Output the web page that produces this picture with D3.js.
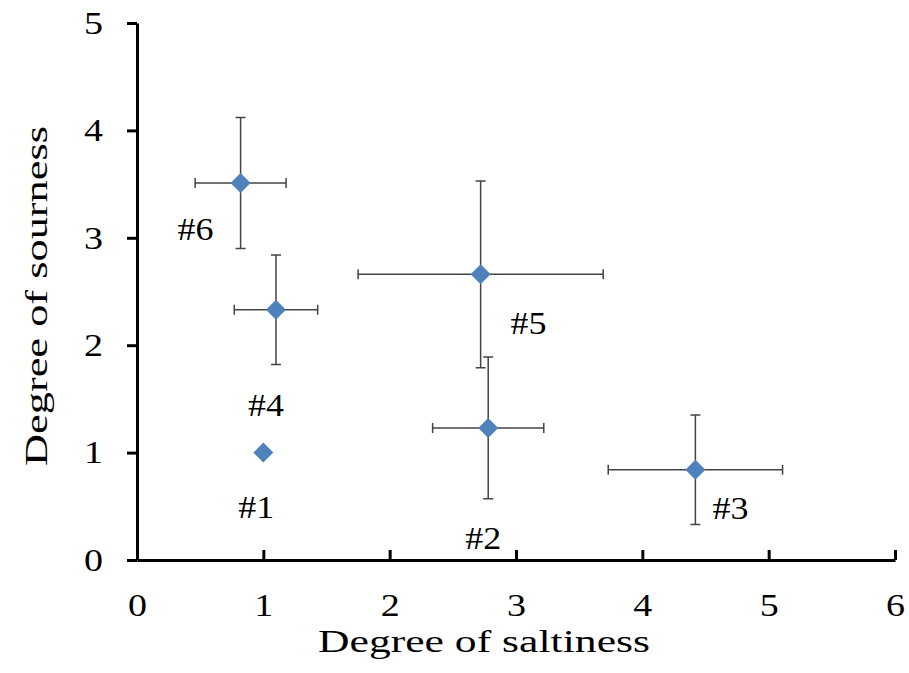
<!DOCTYPE html>
<html>
<head>
<meta charset="utf-8">
<script src="https://cdn.jsdelivr.net/npm/d3@7"></script>
<style>
  body { margin: 0; background: #fff; }
  text { font-family: "Liberation Serif", "Times New Roman", serif; fill: #000; }
</style>
</head>
<body>
<div id="chart"></div>
<script>
// sample labels and means / standard deviations
const samples = ["#1", "#2", "#3", "#4", "#5", "#6"];
const saltiness = [1.00, 2.78, 4.42, 1.10, 2.72, 0.82];
const sourness = [1.00, 1.23, 0.84, 2.33, 2.66, 3.51];
const saltErr = [0, 0.44, 0.69, 0.33, 0.97, 0.36];
const sourErr = [0, 0.66, 0.51, 0.51, 0.87, 0.61];
const xTicks = [0, 1, 2, 3, 4, 5, 6];
const yTicks = [0, 1, 2, 3, 4, 5];

const data = samples.map((s, i) => ({
    name: s, x: saltiness[i], y: sourness[i], ex: saltErr[i], ey: sourErr[i]
}));

// label offsets in px from the marker (left edge, baseline)
const labelPos = { "#1": [-25, 65], "#2": [-23, 121], "#3": [17, 49], "#4": [-28, 106], "#5": [30, 60], "#6": [-63, 57] };

const W = 909, H = 673;
const margin = { top: 23, right: 14, bottom: 113, left: 137 };
const width = W - margin.left - margin.right;
const height = H - margin.top - margin.bottom;

const svg = d3.select("#chart").append("svg")
    .attr("width", W).attr("height", H);
const g = svg.append("g").attr("transform", `translate(${margin.left},${margin.top})`);

const x = d3.scaleLinear().domain([0, 6]).range([0, width]);
const y = d3.scaleLinear().domain([0, 5]).range([height, 0]);

// axes
const xAxis = g.append("g").attr("transform", `translate(0,${height})`)
    .call(d3.axisBottom(x).tickValues(xTicks).tickFormat(d3.format("d"))
        .tickSizeInner(-10).tickSizeOuter(0).tickPadding(33));
const yAxis = g.append("g")
    .call(d3.axisLeft(y).tickValues(yTicks).tickFormat(d3.format("d"))
        .tickSizeInner(10).tickSizeOuter(0).tickPadding(24));

[xAxis, yAxis].forEach(a => {
    a.select(".domain").attr("stroke", "#000").attr("stroke-width", 3);
    a.selectAll(".tick line").attr("stroke", "#000").attr("stroke-width", 3);
    a.selectAll(".tick text")
        .style("font-size", "32px")
        .attr("textLength", 19).attr("lengthAdjust", "spacingAndGlyphs");
});

// error bars
const cap = 5;
const bars = g.append("g").attr("stroke", "#444").attr("stroke-width", 1.5).attr("fill", "none");
data.filter(d => d.ex > 0 || d.ey > 0).forEach(d => {
    const cx = x(d.x), cy = y(d.y);
    const x0 = x(d.x - d.ex), x1 = x(d.x + d.ex);
    const y0 = y(d.y - d.ey), y1 = y(d.y + d.ey);
    bars.append("path")
        .attr("d", `M${x0},${cy}H${x1}M${x0},${cy - cap}V${cy + cap}M${x1},${cy - cap}V${cy + cap}`);
    bars.append("path")
        .attr("d", `M${cx},${y0}V${y1}M${cx - cap},${y0}H${cx + cap}M${cx - cap},${y1}H${cx + cap}`);
});

// diamond markers
const diamond = d3.symbol(d3.symbolSquare, 200);
g.append("g").selectAll("path.pt").data(data).join("path")
    .attr("class", "pt")
    .attr("d", diamond)
    .attr("transform", d => `translate(${x(d.x)},${y(d.y)}) rotate(45)`)
    .attr("fill", "#4F81BD");

// point labels
g.append("g").selectAll("text.lbl").data(data).join("text")
    .attr("class", "lbl")
    .attr("x", d => x(d.x) + labelPos[d.name][0])
    .attr("y", d => y(d.y) + labelPos[d.name][1])
    .style("font-size", "32px")
    .attr("textLength", 36).attr("lengthAdjust", "spacingAndGlyphs")
    .text(d => d.name);

// axis titles
svg.append("text")
    .attr("x", 484).attr("y", 652)
    .attr("text-anchor", "middle")
    .style("font-size", "31px")
    .attr("textLength", 332).attr("lengthAdjust", "spacingAndGlyphs")
    .text("Degree of saltiness");

svg.append("text")
    .attr("transform", "translate(47,296) rotate(-90)")
    .attr("text-anchor", "middle")
    .style("font-size", "31px")
    .attr("textLength", 340).attr("lengthAdjust", "spacingAndGlyphs")
    .text("Degree of sourness");
</script>
</body>
</html>
